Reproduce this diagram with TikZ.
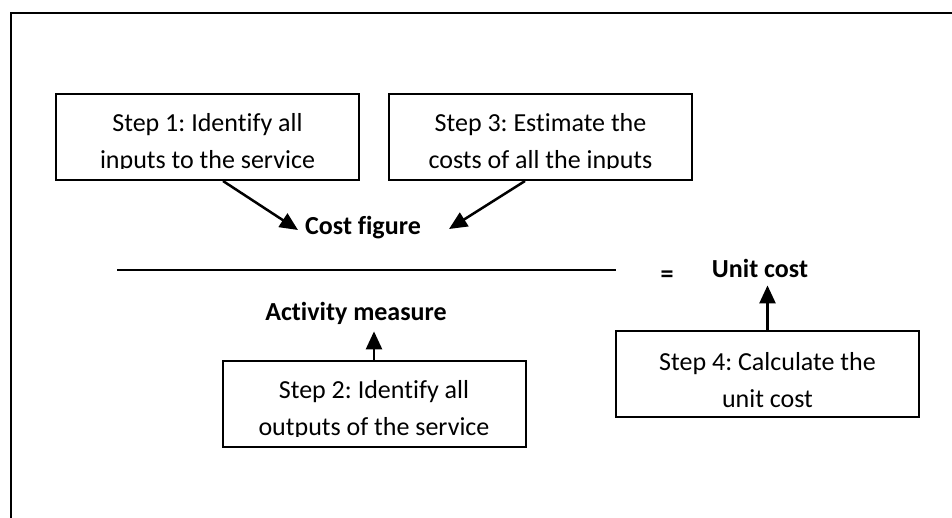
\documentclass[tikz,border=0pt]{standalone}
\usepackage{fontspec}
\setmainfont{Carlito}[Ligatures=NoCommon]
\usetikzlibrary{arrows.meta}
\frenchspacing

\tikzset{
  stepbox/.style={draw, line width=2pt, minimum width=303pt, minimum height=86pt, inner sep=0pt},
  steptext/.style={align=center, inner sep=0pt, font=\fontsize{26}{37}\selectfont},
  term/.style={inner sep=0pt, font=\bfseries\fontsize{26}{31}\selectfont},
  link/.style={line width=2.5pt, -{Triangle[length=18pt,width=16pt]}}
}

\begin{document}
\begin{tikzpicture}[x=1pt,y=-1pt]
			\useasboundingbox (0,0) rectangle (952,518);
			\clip (0,0) rectangle (952,518);
			%%%%% FRAME %%%%%
			\draw[line width=2pt] (11,530) -- (11,13) -- (960,13);
			
			%%%%% STEP BOXES %%%%%
			\node[stepbox] (s1) at (207.5,137) {};
			\begin{scope}
				\clip (s1.north west) rectangle ([yshift=12pt]s1.south east);
				\node[steptext] at ([yshift=-6pt]s1.center) {Step 1: Identify all\\inputs to the service};
			\end{scope}
			
			\node[stepbox] (s3) at (540.5,137) {};
			\begin{scope}
				\clip (s3.north west) rectangle ([yshift=12pt]s3.south east);
				\node[steptext] at ([yshift=-6pt]s3.center) {Step 3: Estimate the\\costs of all the inputs};
			\end{scope}
			
			\node[stepbox] (s2) at (374,404) {};
			\begin{scope}
				\clip (s2.north west) rectangle ([yshift=12pt]s2.south east);
				\node[steptext] at ([yshift=-6pt]s2.center) {Step 2: Identify all\\outputs of the service};
			\end{scope}
			
			\node[stepbox] (s4) at (767.5,374) {};
			\node[steptext] at ([yshift=-6pt]s4.center) {Step 4: Calculate the\\unit cost};
			
			%%%%% TERMS %%%%%
			\node[term] (cost) at (363,228) {Cost figure};
			\node[term] (act) at (356,313) {Activity measure};
			\node[term] (eq) at (667,277) {=};
			\node[term] (unit) at (760,268) {Unit cost};
			
			% fraction bar
			\draw[line width=2pt] (117,270) -- (616,270);
			
			%%%%% ARROWS %%%%%
			\draw[link] ([xshift=15.5pt]s1.south) -- ([xshift=-7pt,yshift=-2pt]cost.west);
			\draw[link] ([xshift=-15.5pt]s3.south) -- ([xshift=28pt,yshift=-1pt]cost.east);
			\draw[link] (s2.north) -- ([yshift=-7pt]s2.north |- act.south);
			\draw[link] (s4.north) -- ([yshift=-8pt]s4.north |- unit.south);
		\end{tikzpicture}
\end{document}
